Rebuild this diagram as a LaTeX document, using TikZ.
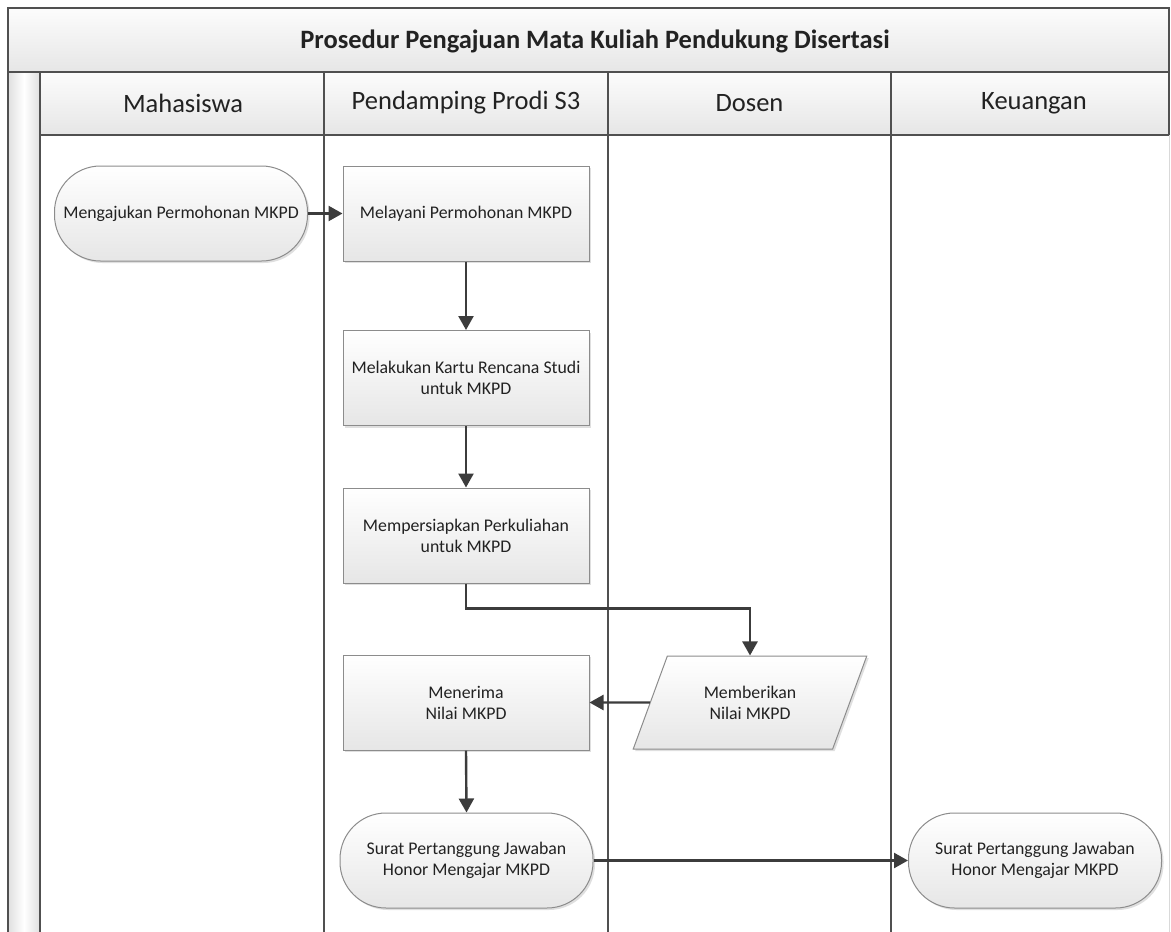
\documentclass[tikz,border=0pt]{standalone}
\usepackage{fontspec}
\setmainfont{Carlito}
\usetikzlibrary{arrows.meta,shadows,shapes.geometric}
\definecolor{lineC}{HTML}{505050}
\definecolor{nodeB}{HTML}{8C8C8C}
\definecolor{txt}{HTML}{222222}
\definecolor{arrC}{HTML}{3C3C3C}
\definecolor{shadeTop}{HTML}{FCFCFC}
\definecolor{shadeBot}{HTML}{E6E6E6}
\tikzset{
  lane/.style={draw=lineC, line width=2pt},
  band/.style={draw=lineC, line width=2pt, top color=shadeTop, bottom color=shadeBot},
  nodefont/.style={font=\fontsize{17.8}{21}\selectfont, text=txt, align=center},
  softshadow/.style={drop shadow={shadow xshift=2pt, shadow yshift=-2pt, opacity=0.25, fill=gray}},
  proc/.style={nodefont, draw=nodeB, line width=1pt, top color=white, bottom color=shadeBot,
    minimum width=246pt, minimum height=95pt, softshadow},
  term/.style={proc, minimum width=253pt, minimum height=95pt, rounded corners=46pt},
  para/.style={nodefont, draw=nodeB, line width=1pt, top color=white, bottom color=shadeBot,
    trapezium, trapezium left angle=63, trapezium right angle=117, trapezium stretches=true,
    minimum width=234pt, minimum height=93pt, softshadow},
  flow/.style={draw=arrC, line width=2.4pt, -{Triangle[length=14pt,width=15pt]}},
  lanehead/.style={font=\fontsize{26.5}{30}\selectfont, text=txt},
  titlefont/.style={font=\bfseries\fontsize{26.5}{30}\selectfont, text=txt}
}
\begin{document}
\begin{tikzpicture}[x=1pt,y=-1pt]
\useasboundingbox (0,0) rectangle (1171,932);
\fill[white] (0,0) rectangle (1171,932);
% left strip
\shade[left color=gray!25, right color=gray!25, middle color=white] (8,72) rectangle (40,932);
% title band
\path[band] (8,8) rectangle (1169,72);
\node[titlefont] (title) at (595,41) {Prosedur Pengajuan Mata Kuliah Pendukung Disertasi};
% lane headers
\path[band] (40,72) rectangle (324,135);
\path[band] (324,72) rectangle (608,135);
\path[band] (608,72) rectangle (891,135);
\path[band] (891,72) rectangle (1169,135);
\node[lanehead] (h1) at (183,103) {Mahasiswa};
\node[lanehead] (h2) at (466,103) {Pendamping Prodi S3};
\node[lanehead] (h3) at (749.5,103) {Dosen};
\node[lanehead] (h4) at (1034,103) {Keuangan};
% lane lines
\draw[lane] (8,8) -- (8,932);
\draw[lane] (40,72) -- (40,932);
\draw[lane] (324,135) -- (324,932);
\draw[lane] (608,135) -- (608,932);
\draw[lane] (891,135) -- (891,932);
\draw[draw=gray!30, line width=0.8pt] (1169,135) -- (1169,932);
% nodes
\node[term] (mengajukan) at (181,213.5) {Mengajukan Permohonan MKPD};
\node[proc] (melayani) at (466,213.5) {Melayani Permohonan MKPD};
\node[proc] (krs) at (466,378) {Melakukan Kartu Rencana Studi\\untuk MKPD};
\node[proc] (persiapan) at (466,535.5) {Mempersiapkan Perkuliahan\\untuk MKPD};
\node[proc] (menerima) at (466,702.5) {Menerima\\Nilai MKPD};
\node[para] (memberikan) at (750,702.5) {Memberikan\\Nilai MKPD};
\node[term] (surat1) at (466.5,860.5) {Surat Pertanggung Jawaban\\Honor Mengajar MKPD};
\node[term] (surat2) at (1035,860.5) {Surat Pertanggung Jawaban\\Honor Mengajar MKPD};
% connectors
\draw[flow] (mengajukan.east) -- (melayani.west);
\draw[flow] (melayani.south) -- (krs.north);
\draw[flow] (krs.south) -- (persiapan.north);
\draw[flow] (persiapan.south) -- ++(0,25) -| (memberikan.north);
\draw[flow] (memberikan.west) -- (menerima.east);
\draw[flow] (menerima.south) -- (surat1.north);
\draw[flow] (surat1.east) -- (surat2.west);
\end{tikzpicture}
\end{document}
